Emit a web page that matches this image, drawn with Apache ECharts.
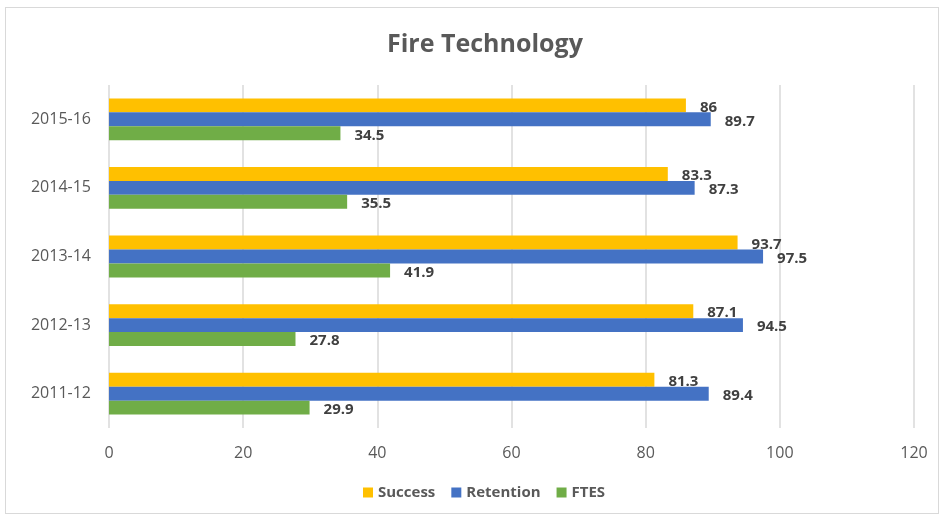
<!DOCTYPE html>
<html>
<head>
<meta charset="utf-8">
<script src="https://cdn.jsdelivr.net/npm/echarts@6/dist/echarts.min.js"></script>
<style>
  html, body { margin: 0; padding: 0; background: #fff; }
  #wrap { position: absolute; left: 5px; top: 7px; width: 934px; height: 507px; border: 1px solid #d9d9d9; box-sizing: border-box; }
  #chart { position: absolute; left: -6px; top: -8px; width: 943px; height: 518px; }
</style>
</head>
<body>
<div id="wrap"><div id="chart"></div></div>
<script>
const years = ["2011-12", "2012-13", "2013-14", "2014-15", "2015-16"];
const success = [81.3, 87.1, 93.7, 83.3, 86];
const retention = [89.4, 94.5, 97.5, 87.3, 89.7];
const ftes = [29.9, 27.8, 41.9, 35.5, 34.5];

const font = "'Open Sans', 'Liberation Sans', sans-serif";
const labelStyle = {
  show: true,
  position: "right",
  distance: 14,
  offset: [0, 2],
  color: "#404040",
  fontWeight: "bold",
  fontSize: 15,
  fontFamily: font
};

function barSeries(name, data, color) {
  return { name, type: "bar", data, barGap: "0%", barCategoryGap: "39%",
           itemStyle: { color }, label: labelStyle };
}

const chart = echarts.init(document.getElementById("chart"));
chart.setOption({
  animation: false,
  backgroundColor: "transparent",
  textStyle: { fontFamily: font },
  title: {
    text: "Fire Technology",
    left: 382,
    top: 27,
    textStyle: { color: "#595959", fontSize: 25, fontWeight: "bold", fontFamily: font }
  },
  legend: {
    data: ["Success", "Retention", "FTES"],
    bottom: 13,
    left: 358,
    itemWidth: 10,
    itemHeight: 10,
    itemGap: 16,
    icon: "rect",
    textStyle: { color: "#595959", fontSize: 15, fontWeight: "bold", fontFamily: font }
  },
  grid: { left: 109, right: 29, top: 85, bottom: 90, containLabel: false },
  xAxis: {
    type: "value",
    min: 0,
    max: 120,
    interval: 20,
    axisLine: { show: false },
    axisTick: { show: false },
    axisLabel: { color: "#595959", fontSize: 16, margin: 17, fontFamily: font },
    splitLine: { lineStyle: { color: "#d9d9d9", width: 1.5 } }
  },
  yAxis: {
    type: "category",
    data: years,
    axisLine: { show: false },
    axisTick: { show: false },
    axisLabel: { color: "#595959", fontSize: 16, margin: 18, fontFamily: font }
  },
  series: [
    barSeries("Success", success, "#FFC000"),
    barSeries("Retention", retention, "#4472C4"),
    barSeries("FTES", ftes, "#70AD47")
  ]
});
</script>
</body>
</html>
